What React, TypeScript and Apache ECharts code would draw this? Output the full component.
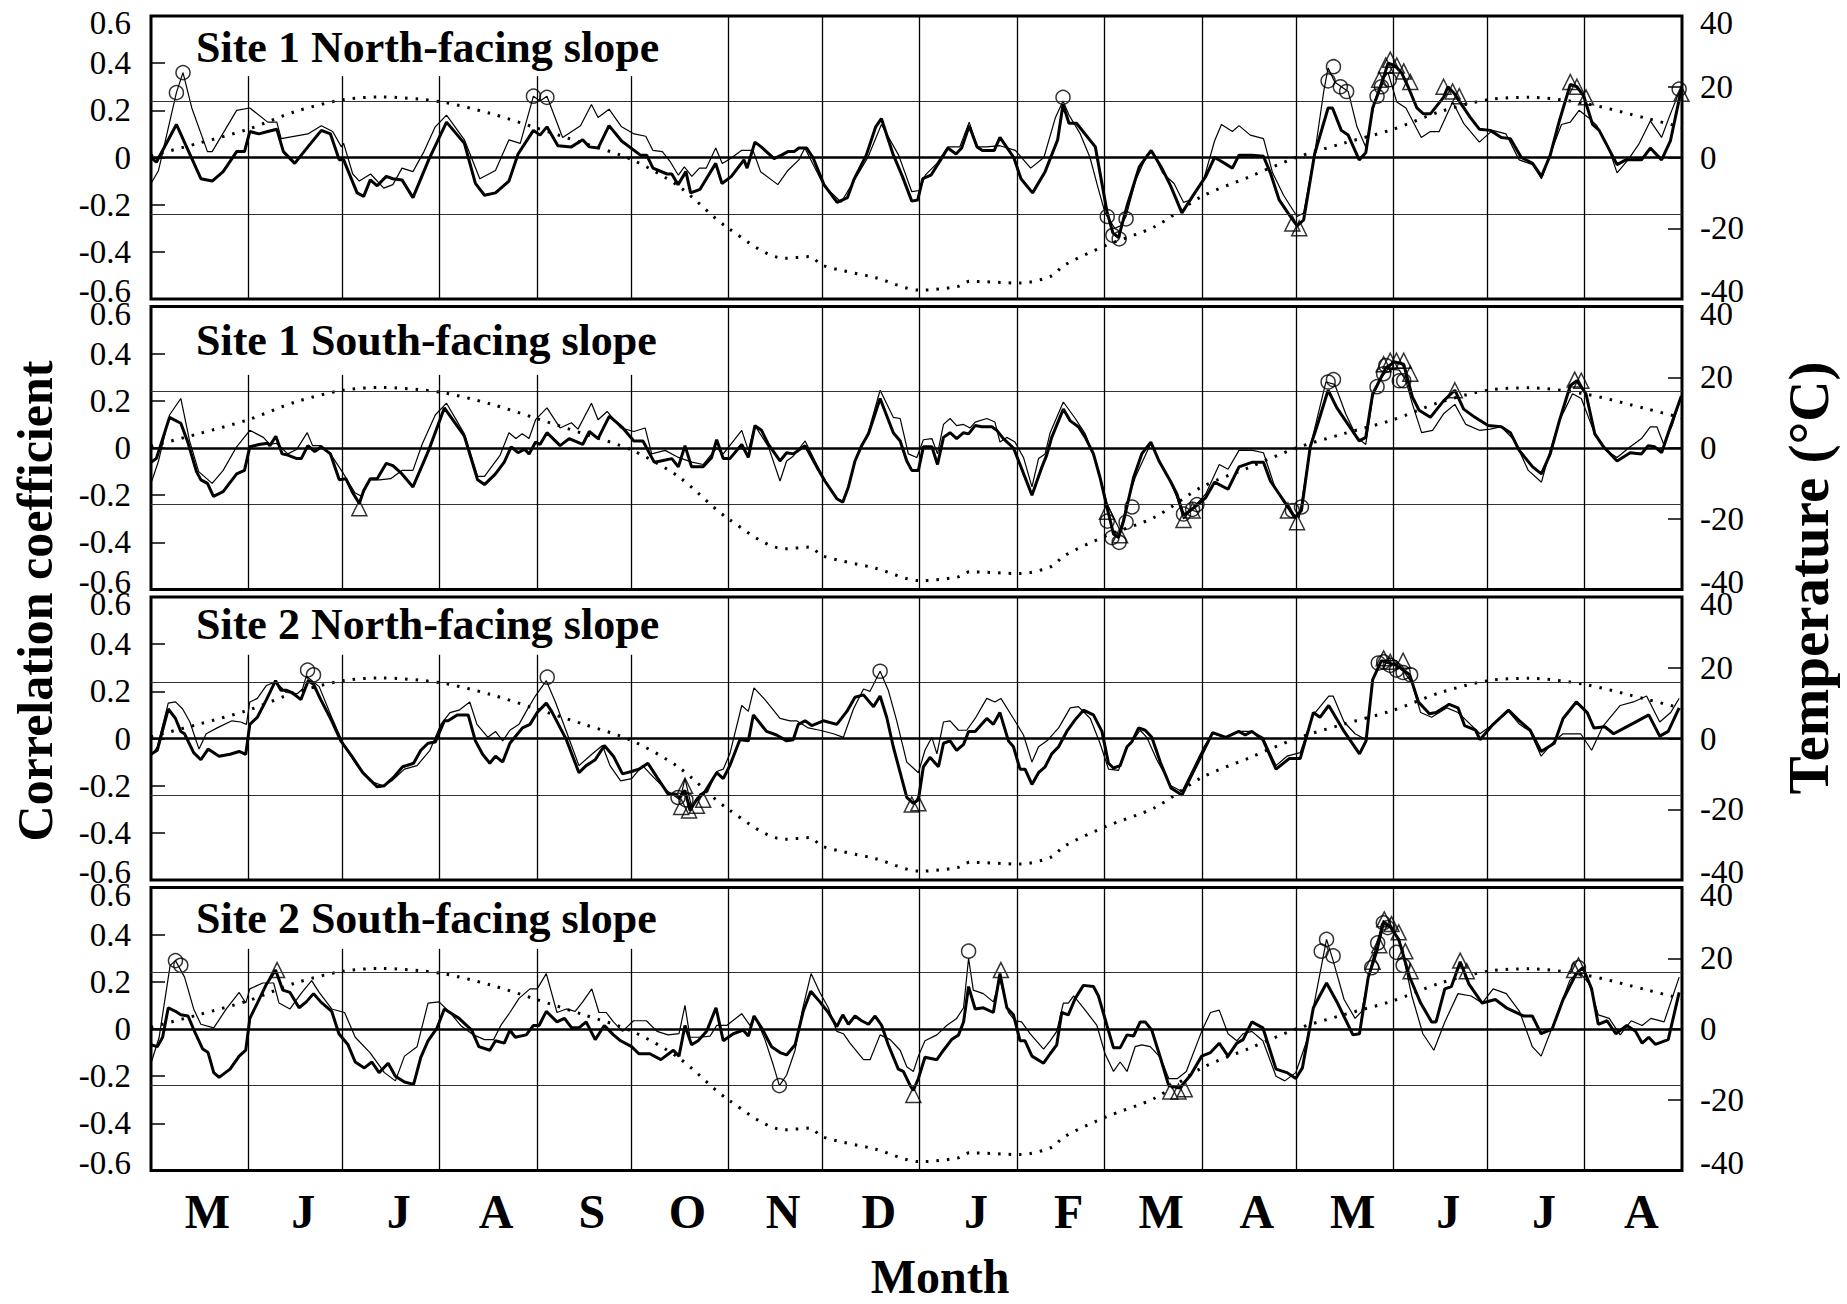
import React, { useEffect, useRef } from 'react';
import * as echarts from 'echarts';

// ---------- axes / categories ----------
const monthStarts = [0, 31, 61, 92, 123, 153, 184, 214, 245, 276, 304, 335, 365, 396, 426, 457, 488];
const monthLetters = ['M', 'J', 'J', 'A', 'S', 'O', 'N', 'D', 'J', 'F', 'M', 'A', 'M', 'J', 'J', 'A'];
const panelTitles = [
  'Site 1 North-facing slope',
  'Site 1 South-facing slope',
  'Site 2 North-facing slope',
  'Site 2 South-facing slope',
];
const corrRange = [-0.6, 0.6];
const tempRange = [-40, 40];
const sigLevel = 0.24;

// ---------- temperature (°C), [day since 1 May, value] ----------
const temperature = [
  [0, 0.5], [15, 4], [31, 8], [46, 13], [61, 16.3], [73, 17.1], [92, 15.8], [108, 12.5], [123, 8.3],
  [138, 4], [153, -0.5], [168, -8], [184, -20], [202, -28.5], [210, -28], [214, -30.5], [231, -34],
  [245, -37.5], [257, -36.5], [261, -35], [277, -35.5], [287, -33.5], [291, -30.5], [304, -25],
  [320, -19.5], [335, -11], [350, -5.5], [365, 0], [380, 4], [396, 8], [411, 13], [426, 16.3],
  [439, 17], [457, 15.3], [477, 11], [488, 8.5],
];

// ---------- Site 1 North ----------
const p1Bold = [
  [0, 0], [1.7, -0.02], [8.1, 0.14], [15.9, -0.09], [19.5, -0.1], [23, -0.06], [27.3, 0.025], [29.8, 0.025],
  [31.5, 0.11], [34.4, 0.1], [37.2, 0.11], [40.1, 0.12], [42.2, 0.025], [45.8, -0.025], [50, 0.045],
  [54.3, 0.115], [57.2, 0.1], [60, -0.01], [61.4, -0.01], [65.7, -0.15], [67.8, -0.165], [69.9, -0.095],
  [72.1, -0.12], [75, -0.08], [77.1, -0.09], [80, -0.095], [83.5, -0.17], [88.5, -0.01], [94.2, 0.15],
  [99.9, 0.06], [103.4, -0.11], [106.3, -0.16], [109.8, -0.15], [114.1, -0.1], [117, 0.015], [121.9, 0.115],
  [124, 0.095], [126.2, 0.13], [129.7, 0.05], [134, 0.045], [137.6, 0.075], [139.7, 0.045], [142.5, 0.04],
  [146, 0.135], [150, 0.07], [156, 0.01], [158, 0.01], [160, -0.045], [164.5, -0.07], [166, -0.07],
  [168, -0.115], [170.5, -0.06], [172, -0.15], [175, -0.135], [180, -0.025], [182, -0.11], [185, -0.08],
  [189, -0.01], [190, -0.045], [192.5, 0.065], [194.5, 0.045], [198.6, -0.005], [201, 0.01], [203, 0.025],
  [205, 0.025], [206.5, 0.04], [209, 0.04], [211, 0], [214.5, -0.115], [218.7, -0.19], [222, -0.17],
  [224, -0.095], [228, 0.01], [231, 0.13], [232.8, 0.165], [236.5, 0.015], [239.5, -0.08], [242.5, -0.185],
  [244.4, -0.18], [246, -0.09], [248.6, -0.075], [251.7, -0.01], [254, 0.04], [256.6, 0.015], [258.4, 0.04],
  [260.8, 0.135], [263.3, 0.045], [265, 0.03], [268.8, 0.03], [270.6, 0.085], [275, 0], [277.3, -0.09],
  [281, -0.15], [285, -0.06], [289, 0.075], [290.7, 0.225], [292.6, 0.145], [295, 0.145], [301, 0.045],
  [304.8, -0.235], [306.6, -0.32], [308.4, -0.34], [311, -0.21], [315, -0.04], [318.8, 0.03], [322, -0.04],
  [325, -0.12], [328.6, -0.235], [332.7, -0.15], [336.2, -0.08], [339, 0], [341, -0.015], [344.7, -0.045],
  [346.8, 0.01], [351, 0.01], [354.6, 0.005], [356.8, -0.065], [359.6, -0.18], [362.4, -0.235],
  [365.3, -0.29], [367.4, -0.265], [370.9, 0.015], [375.2, 0.21], [376.6, 0.21], [379.4, 0.115],
  [381.6, 0.095], [385.1, -0.01], [387.2, 0.02], [389.4, 0.21], [392.2, 0.31], [394.3, 0.4], [396.4, 0.39],
  [398.6, 0.36], [400.7, 0.3], [403.5, 0.21], [405.6, 0.185], [407.8, 0.185], [412, 0.255], [413.4, 0.3],
  [415.5, 0.27], [417.7, 0.225], [420.5, 0.17], [423.4, 0.12], [426.9, 0.115], [430.4, 0.085], [433.3, 0.08],
  [436.8, 0], [440.4, -0.025], [443.2, -0.08], [446, 0.01], [448.9, 0.155], [452.4, 0.31], [454.5, 0.3],
  [456.7, 0.26], [459.5, 0.14], [461.6, 0.115], [467.3, -0.03], [470.1, -0.01], [475.1, -0.01],
  [477.9, 0.04], [481.5, -0.01], [484.3, 0.07], [487.8, 0.29],
];
const p1Thin = [
  [0, -0.11], [2.4, -0.055], [8.1, 0.275], [10.2, 0.36], [13, 0.21], [18, 0.025], [19.5, 0.025], [27.3, 0.2],
  [31.5, 0.21], [37.2, 0.15], [40.1, 0.15], [41.5, 0.08], [50, 0.1], [54.3, 0.135], [57.9, 0.11],
  [60.7, 0.045], [61.4, 0.06], [64.3, -0.07], [66.4, -0.1], [70, -0.07], [74.2, -0.13], [77.1, -0.115],
  [80, -0.045], [83.5, -0.06], [87, 0.025], [90.6, 0.13], [94.2, 0.18], [99.9, 0.075], [104.8, -0.09],
  [109.8, -0.055], [114.1, 0.075], [117.7, 0.06], [121.9, 0.26], [124, 0.24], [126.2, 0.26], [131.2, 0.085],
  [136.9, 0.135], [140.4, 0.225], [142.5, 0.17], [146, 0.205], [150, 0.13], [154, 0.1], [157.7, 0.09],
  [160, 0.03], [163, 0.025], [165.6, -0.02], [168.1, -0.075], [170, -0.04], [172.4, -0.08], [174.8, -0.045],
  [177, -0.045], [180, 0.04], [182.1, -0.025], [184.6, -0.005], [188.2, 0.03], [191.9, 0.03], [194.3, -0.06],
  [199.8, -0.115], [203, -0.055], [206.5, -0.01], [208.4, 0.04], [214.5, -0.12], [220, -0.19], [224, -0.1],
  [228.5, 0], [232.8, 0.14], [238.3, 0.01], [242.5, -0.145], [245, -0.14], [246.8, -0.075], [250.5, -0.025],
  [254, 0.045], [257.8, 0.045], [260.8, 0.15], [263.3, 0.045], [266.3, 0.045], [270.6, 0.05], [275.5, 0.03],
  [280.4, -0.045], [284.6, 0], [288.3, 0.17], [290.7, 0.24], [292.6, 0.18], [296.2, 0.1], [299.3, 0],
  [301.7, -0.12], [304.1, -0.235], [307.2, -0.3], [309, -0.29], [310.8, -0.25], [313.9, -0.095],
  [317.6, 0.015], [319.4, 0.02], [322.4, -0.065], [326.1, -0.11], [329.1, -0.19], [331.3, -0.18],
  [335.5, -0.095], [339, 0.07], [341.2, 0.14], [344.7, 0.11], [346.8, 0.135], [350.4, 0.095], [354.6, 0.08],
  [357.5, -0.065], [361, -0.16], [365.3, -0.25], [367.4, -0.235], [370.9, 0.015], [373.8, 0.28],
  [375.2, 0.38], [377.3, 0.32], [379.4, 0.3], [381.6, 0.28], [384.4, 0.13], [387.2, 0.045], [390.1, 0.24],
  [392.2, 0.325], [394.3, 0.36], [397.1, 0.235], [400, 0.21], [404.9, 0.085], [407.8, 0.11], [410.6, 0.11],
  [414.9, 0.235], [418.4, 0.145], [423.4, 0.065], [427.6, 0.115], [431.9, 0.1], [436.1, -0.01],
  [440.4, -0.03], [443.2, -0.09], [446, 0.015], [449.6, 0.14], [452.4, 0.15], [455.2, 0.2], [458.1, 0.17],
  [460.9, 0.135], [464.5, 0.045], [467.3, -0.065], [470.8, -0.01], [474.4, 0.06], [477.9, 0.155],
  [481.5, 0.085], [484.3, 0.185], [487.8, 0.3],
];
const p1Circles = [
  [8.1, 0.275], [10.2, 0.36], [121.9, 0.26], [126.2, 0.255], [290.7, 0.255], [304.8, -0.25], [306.6, -0.33],
  [308.6, -0.345], [310.8, -0.26], [375.2, 0.325], [376.9, 0.385], [379.1, 0.3], [381.1, 0.28],
  [390.8, 0.26], [392.2, 0.3], [394.7, 0.33], [487.1, 0.29],
];
const p1Triangles = [
  [363.8, -0.28], [366, -0.3], [391.5, 0.33], [393.6, 0.39], [395, 0.415], [397.1, 0.39], [399.3, 0.365],
  [401.4, 0.32], [412, 0.3], [414.9, 0.28], [417, 0.26], [452.4, 0.32], [454.5, 0.3], [457.4, 0.255],
  [487.8, 0.27],
];

// ---------- Site 1 South ----------
const p2Bold = [
  [0, -0.06], [1.7, -0.045], [5.9, 0.13], [9.5, 0.105], [11.6, 0.03], [14.5, -0.1], [15.9, -0.135], [18, -0.15],
  [19.9, -0.205], [23, -0.185], [27.3, -0.11], [29.8, -0.095], [31.5, 0.005], [34.4, 0.015], [37.2, 0.02],
  [37.9, 0.01], [39.8, 0.05], [41.8, -0.025], [43.6, -0.03], [46.5, -0.045], [47.9, -0.045], [50, 0.01],
  [52.2, -0.015], [54.3, 0.005], [57.2, -0.025], [60, -0.135], [62.1, -0.13], [64.3, -0.19], [66.4, -0.235],
  [67.8, -0.18], [69.9, -0.13], [72.1, -0.13], [75, -0.065], [77.1, -0.075], [80, -0.11], [83.5, -0.165],
  [88.5, -0.01], [93.5, 0.17], [99.9, 0.05], [104.1, -0.135], [106.3, -0.155], [109.8, -0.11],
  [112.6, -0.06], [114.8, 0.005], [117, -0.02], [119.1, -0.005], [120.5, -0.025], [122.6, 0.025],
  [124, 0.015], [126.2, 0.065], [130.4, 0.01], [133.3, 0.04], [137.6, 0.015], [139.7, 0.07], [142.5, 0.04],
  [146.1, 0.135], [150.4, 0.085], [153.9, 0.03], [156.8, 0.03], [160.4, -0.06], [162.5, -0.055],
  [166, -0.045], [168.1, -0.08], [170.2, 0.01], [172.3, -0.08], [176, -0.08], [178.7, -0.04], [180.3, 0.035],
  [182.4, -0.045], [184.5, -0.045], [188.3, 0.015], [190.4, -0.04], [192.5, 0.095], [194.6, 0.075],
  [196.8, 0.015], [200.5, -0.055], [202.6, -0.02], [204.7, -0.025], [208.5, 0.01], [212.2, -0.08],
  [214.8, -0.14], [218.6, -0.215], [220.5, -0.23], [222.3, -0.165], [224.4, -0.055], [226.5, 0.01],
  [228.7, 0.06], [232.4, 0.21], [236.6, 0.065], [238.8, 0.03], [240.9, -0.055], [242.5, -0.095],
  [244.6, -0.095], [246.2, 0.005], [248.9, 0.005], [250.7, -0.07], [252.6, 0.045], [254.7, 0.065],
  [256.8, 0.04], [259, 0.065], [260.6, 0.06], [262.7, 0.095], [264.8, 0.09], [268, 0.09], [269.6, 0.075],
  [271.7, 0.04], [274.9, 0], [277, -0.07], [280.8, -0.2], [284, -0.08], [285.5, -0.03], [287.1, 0.045],
  [290.8, 0.165], [293, 0.115], [295.6, 0.09], [297.8, 0.045], [300.4, -0.025], [302.5, -0.125],
  [304.7, -0.25], [306.8, -0.365], [308.4, -0.38], [310, -0.31], [313.2, -0.125], [315.8, -0.025],
  [318.7, 0.025], [321.3, -0.055], [324.9, -0.14], [327, -0.195], [329.1, -0.285], [331.3, -0.265],
  [334.1, -0.235], [336.2, -0.21], [339, -0.145], [343.3, -0.175], [346.8, -0.08], [351.1, -0.06],
  [354.6, -0.06], [356.8, -0.14], [359.6, -0.195], [362.4, -0.25], [364.6, -0.295], [366.7, -0.265],
  [369.5, 0.005], [371.6, 0.09], [375.2, 0.245], [378, 0.17], [380.8, 0.115], [385.1, 0.03], [387.2, 0.045],
  [389.4, 0.23], [390.8, 0.265], [393.6, 0.34], [396.4, 0.365], [399.3, 0.355], [402.1, 0.215],
  [404.2, 0.16], [407.8, 0.13], [412, 0.2], [415.6, 0.245], [418.4, 0.165], [422, 0.13], [426.2, 0.095],
  [430.4, 0.09], [433.3, 0.065], [436.1, -0.01], [440.4, -0.08], [443.2, -0.11], [446, -0.025],
  [448.9, 0.115], [452.4, 0.265], [454.5, 0.285], [457.4, 0.23], [460.2, 0.06], [463, 0.005],
  [467.3, -0.055], [471.5, -0.02], [475.1, -0.025], [477.2, 0.01], [479.3, 0.005], [481.5, -0.02],
  [484.3, 0.09], [487.8, 0.22],
];
const p2Thin = [
  [0, -0.15], [2.4, -0.055], [5.9, 0.14], [9.5, 0.21], [12.3, 0.03], [15.2, -0.1], [19.5, -0.15], [23, -0.095],
  [27.3, 0.005], [31.5, 0.075], [35.8, 0.045], [37.9, 0.015], [40, 0.02], [43.6, -0.025], [46.5, -0.005],
  [49.8, 0.065], [51.5, 0.01], [54.3, 0.01], [57.2, -0.025], [61.4, -0.11], [65, -0.19], [67.1, -0.205],
  [69.9, -0.135], [72.8, -0.135], [76.4, -0.13], [80, -0.095], [83.5, -0.095], [86.4, 0.015], [90.6, 0.14],
  [94.2, 0.19], [99.9, 0.06], [104.1, -0.12], [106.3, -0.12], [111.3, -0.03], [114.1, 0.065], [116.3, 0.04],
  [118.3, 0.06], [120.5, 0.04], [122.6, 0.12], [126.2, 0.17], [130.4, 0.085], [134, 0.107], [136.1, 0.08],
  [140.4, 0.19], [142.5, 0.12], [145.4, 0.155], [149.7, 0.085], [153.9, 0.07], [157.5, 0.085],
  [159.6, -0.025], [163.9, -0.01], [168.1, -0.04], [172.4, -0.06], [176, -0.07], [180.3, 0], [182.4, -0.025],
  [188.3, 0.075], [190.4, -0.01], [192.5, 0.095], [196.8, 0.005], [200.5, -0.14], [202.6, -0.055],
  [204.7, -0.035], [208.5, 0.03], [212.2, -0.07], [214.8, -0.14], [218.6, -0.215], [220.5, -0.225],
  [222.3, -0.165], [224.4, -0.055], [228.7, 0.07], [232.4, 0.245], [236.6, 0.13], [238.8, 0.125],
  [241.4, -0.025], [244.1, -0.04], [246.2, 0.035], [248.9, 0.04], [250.7, -0.025], [252.6, 0.1],
  [254.7, 0.125], [256.8, 0.095], [259, 0.1], [261.1, 0.085], [262.7, 0.11], [266.4, 0.125], [269, 0.11],
  [270.6, 0.025], [272.8, 0.045], [275.4, 0.025], [278.1, -0.04], [280.8, -0.165], [282.9, -0.045],
  [285, -0.025], [286.6, 0.065], [290.8, 0.195], [294.6, 0.125], [297.8, 0.06], [301.5, -0.07],
  [304.7, -0.235], [306.8, -0.295], [308.9, -0.35], [311.1, -0.235], [313.7, -0.125], [318.7, 0.02],
  [321.3, -0.055], [324.9, -0.14], [327, -0.21], [329.1, -0.3], [331.3, -0.265], [334.1, -0.225],
  [336.2, -0.195], [340.5, -0.07], [343.3, -0.09], [346.8, -0.01], [351.1, -0.01], [354.6, -0.02],
  [358.2, -0.165], [361, -0.23], [363.8, -0.28], [366, -0.295], [369.5, 0.005], [374.5, 0.28],
  [377.3, 0.27], [380.8, 0.145], [384.4, 0.045], [387.2, 0.015], [389.4, 0.215], [391.5, 0.285],
  [394.3, 0.335], [397.9, 0.33], [400, 0.285], [402.1, 0.185], [405, 0.065], [408.5, 0.075], [412, 0.145],
  [415.6, 0.185], [419.1, 0.1], [423.4, 0.075], [426.9, 0.08], [430.4, 0.09], [434.7, 0.03], [439, -0.095],
  [443.2, -0.145], [446, -0.01], [448.9, 0.115], [453.1, 0.23], [455.9, 0.21], [460.2, 0.06],
  [463.7, -0.01], [467.3, -0.04], [471.5, 0.005], [475.1, 0.04], [477.9, 0.09], [480, 0.09],
  [482.2, 0.015], [485, 0.1], [487.8, 0.22],
];
const p2Circles = [
  [304.8, -0.31], [306.3, -0.38], [308.6, -0.4], [310.8, -0.315], [312.7, -0.25], [329.1, -0.28],
  [332, -0.26], [333.4, -0.24], [363.8, -0.265], [366.7, -0.25], [375.2, 0.28], [376.9, 0.29],
  [390.8, 0.26], [392.9, 0.315], [393.6, 0.35], [397.9, 0.285], [399.3, 0.285],
];
const p2Triangles = [
  [66.4, -0.255], [304.7, -0.27], [308.9, -0.37], [329.1, -0.305], [332, -0.265], [362.4, -0.265],
  [365.3, -0.315], [392.9, 0.355], [395, 0.37], [397, 0.37], [399.3, 0.37], [401.4, 0.315], [415.6, 0.245],
  [453.8, 0.29], [455.9, 0.285],
];

// ---------- Site 2 North ----------
const p3Bold = [
  [0, -0.067], [2, -0.05], [5.5, 0.125], [7.8, 0.085], [9.5, 0.03], [10.7, 0.02], [13.6, -0.06], [15.9, -0.09],
  [18.2, -0.045], [21.7, -0.075], [25.2, -0.067], [28.1, -0.055], [30.2, -0.067], [31.5, 0.06], [33.9, 0.09],
  [36.8, 0.165], [39.7, 0.245], [41.4, 0.205], [43.1, 0.205], [44.9, 0.195], [47.8, 0.165], [50.1, 0.245],
  [51.8, 0.23], [54.1, 0.165], [57.6, 0.075], [60.5, -0.01], [64, -0.075], [67.5, -0.145], [72.1, -0.205],
  [74.4, -0.2], [77.3, -0.165], [80.2, -0.12], [83.7, -0.105], [86, -0.05], [88.3, -0.02], [90.6, -0.015],
  [93.5, 0.075], [94.7, 0.075], [97.6, 0.1], [101.1, 0.1], [103.4, -0.01], [105.7, -0.067], [108, -0.105],
  [109.8, -0.075], [112.1, -0.1], [114.4, -0.02], [118.4, 0.045], [120.8, 0.06], [123.1, 0.11], [126, 0.15],
  [127.7, 0.115], [132.4, -0.005], [136.4, -0.145], [138.7, -0.115], [141.6, -0.09], [144.5, -0.03],
  [147.4, -0.075], [150.3, -0.15], [153.2, -0.14], [155.5, -0.13], [158.4, -0.105], [161.3, -0.165],
  [164.8, -0.235], [167.1, -0.235], [168.6, -0.25], [170.2, -0.22], [171.8, -0.305], [173.9, -0.26],
  [176.6, -0.225], [180.3, -0.145], [182.4, -0.17], [184.5, -0.115], [187.7, -0.005], [190.4, -0.01],
  [192, 0.1], [196.2, 0.03], [199.4, 0.015], [202.6, -0.01], [204.7, -0.005], [206.3, 0.06], [208.5, 0.075],
  [210.6, 0.055], [214.3, 0.075], [218.6, 0.06], [221.8, 0.115], [224.4, 0.175], [227.1, 0.185],
  [230.3, 0.135], [232.4, 0.18], [234.5, 0.09], [236.6, -0.035], [238.8, -0.145], [240.9, -0.25],
  [243, -0.275], [244.6, -0.26], [246.2, -0.12], [248.3, -0.08], [251, -0.12], [252.6, -0.02],
  [254.7, -0.01], [256.8, -0.05], [259, -0.025], [260.6, 0.03], [262.7, 0.03], [266.4, 0.085], [268.5, 0.06],
  [270.6, 0.11], [273.3, -0.01], [274.9, -0.035], [277, -0.13], [278.6, -0.13], [280.8, -0.195],
  [282.9, -0.145], [285, -0.12], [287.1, -0.065], [289.3, -0.035], [291.9, 0.03], [294.6, 0.08],
  [297.2, 0.12], [300.4, 0.1], [303.1, 0.03], [305.2, -0.105], [306.8, -0.125], [308.9, -0.115],
  [311.1, -0.035], [312.6, -0.015], [314.8, 0.045], [316.9, 0.035], [319, 0.005], [321.7, -0.1],
  [325.1, -0.21], [328.6, -0.24], [332.1, -0.145], [335.6, -0.05], [338.4, 0.025], [342.6, 0.005],
  [346.7, 0.03], [348.8, 0.015], [350.9, 0.03], [354.4, -0.005], [358.6, -0.13], [362.8, -0.085],
  [366.3, -0.085], [370.5, 0.11], [372.6, 0.09], [375.4, 0.14], [380.3, 0.03], [385.2, -0.065],
  [387.3, -0.01], [389.4, 0.25], [392.2, 0.33], [397, 0.31], [401.2, 0.27], [404, 0.155], [407.5, 0.105],
  [409.6, 0.11], [413.8, 0.145], [416.6, 0.13], [418.7, 0.055], [422.2, 0.035], [423.6, -0.005],
  [427.8, 0.06], [432.7, 0.12], [436.2, 0.075], [439.6, 0.035], [443.1, -0.055], [447.3, -0.02],
  [450.1, 0.085], [454.3, 0.155], [457.8, 0.11], [459.9, 0.045], [463.4, 0.05], [466.2, 0.02],
  [469.7, 0.045], [473.9, 0.075], [477.4, 0.1], [480.9, 0.01], [483.6, 0.03], [487.1, 0.13],
];
const p3Thin = [
  [0, -0.075], [2, -0.035], [5.5, 0.15], [7.8, 0.155], [10.1, 0.125], [12.4, 0.07], [15.3, -0.045],
  [17.6, 0.02], [21.1, 0.045], [25.8, 0.075], [28.6, 0.07], [30.4, 0.06], [31.5, 0.155], [33.9, 0.17],
  [36.8, 0.225], [39.7, 0.24], [43.1, 0.195], [46.6, 0.19], [48.3, 0.21], [49.5, 0.265], [53.6, 0.22],
  [57.6, 0.09], [61.7, -0.035], [65.7, -0.115], [69.8, -0.18], [73.8, -0.2], [76.7, -0.18], [80.8, -0.13],
  [84.8, -0.115], [88.9, -0.05], [92.4, 0.06], [95.3, 0.11], [98.2, 0.12], [101.6, 0.155], [103.9, 0.06],
  [107.4, 0.005], [109.8, 0.03], [112.1, -0.01], [114.4, 0.035], [117.3, 0.06], [119.6, 0.115],
  [122.5, 0.18], [126, 0.245], [128.9, 0.155], [132.4, 0.03], [136.4, -0.115], [140.5, -0.067],
  [143.9, -0.03], [146.3, -0.115], [149.7, -0.18], [153.2, -0.17], [156.7, -0.115], [160.2, -0.165],
  [164.8, -0.225], [168.6, -0.26], [170.2, -0.17], [172.3, -0.29], [175, -0.235], [177.6, -0.22],
  [180.3, -0.14], [182.4, -0.13], [184.5, -0.065], [188.3, 0.14], [190.4, 0.115], [192.2, 0.215],
  [195.7, 0.165], [200.5, 0.085], [203.7, 0.075], [205.8, 0.075], [209.5, 0.045], [213.2, 0.035],
  [217.5, 0.02], [220.7, 0.005], [223.9, 0.125], [227.1, 0.21], [229.2, 0.2], [232.4, 0.285], [235, 0.205],
  [237.7, 0.075], [240.9, -0.1], [244.6, -0.145], [246.7, -0.05], [248.9, 0.005], [250.5, -0.065],
  [252.6, 0.07], [254.7, 0.075], [257.4, 0.035], [260, 0.035], [262.7, 0.085], [266.4, 0.17], [269, 0.155],
  [270.9, 0.17], [274.9, 0.085], [278.1, 0.015], [280.8, -0.1], [282.9, -0.035], [285.6, -0.01],
  [289.3, 0.045], [293, 0.13], [295.6, 0.135], [299.4, 0.085], [302.5, -0.02], [305.2, -0.13],
  [308.4, -0.135], [311.1, -0.035], [313.2, -0.005], [315.3, 0.035], [317.4, 0.005], [320.6, -0.09],
  [325.1, -0.2], [328.6, -0.225], [332.1, -0.13], [335.6, -0.035], [338.4, 0.02], [342.6, 0.005],
  [346.7, 0.03], [350.9, 0.03], [354.4, 0.005], [358.6, -0.115], [362.1, -0.075], [366.3, -0.06],
  [370.5, 0.1], [375.4, 0.18], [376.8, 0.18], [380.3, 0.07], [383.8, 0.02], [387.3, -0.005], [389.4, 0.25],
  [392.2, 0.33], [397, 0.33], [401.9, 0.235], [404.7, 0.11], [408.2, 0.09], [413.1, 0.13], [416.6, 0.11],
  [419.4, 0.075], [423.6, 0.02], [427.8, 0.06], [432.7, 0.115], [436.2, 0.06], [439.6, 0.03],
  [443.1, -0.075], [447.3, -0.01], [450.1, 0.02], [455.7, 0.02], [459.2, -0.05], [462.7, 0.05],
  [468.3, 0.14], [472.5, 0.155], [476.7, 0.18], [480.9, 0.07], [484.4, 0.11], [487.1, 0.17],
];
const p3Circles = [
  [49.9, 0.29], [51.8, 0.27], [126.3, 0.26], [168, -0.25], [170.5, -0.26], [232.4, 0.285], [391.2, 0.32],
  [392.9, 0.325], [395, 0.31], [397, 0.29], [399.1, 0.28], [401.5, 0.27],
];
const p3Triangles = [
  [169, -0.29], [170.2, -0.2], [171.5, -0.305], [174, -0.285], [176, -0.26], [242.5, -0.28], [244.6, -0.275],
  [392.9, 0.34], [395, 0.325], [399.1, 0.33],
];

// ---------- Site 2 South ----------
const p4Bold = [
  [0, -0.067], [2, -0.075], [3.7, -0.035], [5.5, 0.09], [7.8, 0.075], [9.5, 0.06], [11.8, 0.055], [14.2, -0.02],
  [16.5, -0.085], [18.2, -0.1], [20, -0.185], [21.7, -0.205], [25.2, -0.17], [28.1, -0.115], [30.2, -0.09],
  [31.5, 0.045], [33.9, 0.11], [36.8, 0.19], [39.7, 0.25], [42, 0.165], [44.3, 0.155], [47.2, 0.09],
  [49.5, 0.115], [51.8, 0.15], [54.1, 0.115], [57.6, 0.075], [59.9, -0.02], [62.8, -0.067], [65.1, -0.14],
  [68, -0.165], [70.4, -0.14], [72.7, -0.185], [75.6, -0.145], [77.9, -0.2], [80.8, -0.225], [83.7, -0.235],
  [86, -0.12], [88.3, -0.05], [91.2, 0.005], [93.5, 0.085], [96.4, 0.06], [98.2, 0.045], [102.2, -0.005],
  [104.5, -0.075], [108, -0.09], [109.8, -0.05], [112.6, -0.06], [114.4, -0.005], [116.1, -0.035],
  [119.6, -0.025], [121.9, 0.015], [123.7, 0.015], [126, 0.075], [129.4, 0.03], [131.8, 0.045],
  [134.1, 0.005], [136.4, 0.005], [138.7, 0.03], [141.6, -0.045], [144.5, 0.015], [147.4, -0.025],
  [149.7, -0.05], [153.2, -0.075], [155.5, -0.105], [159, -0.105], [162.5, -0.13], [166.5, -0.09],
  [168.3, -0.115], [170.2, 0.015], [172.3, -0.067], [174.4, -0.05], [177.1, -0.01], [180.1, 0.09],
  [182.4, -0.05], [185.6, -0.02], [188.8, -0.005], [190.4, -0.03], [192.2, 0.055], [194.6, 0.005],
  [197.8, -0.075], [200.5, -0.1], [202.6, -0.11], [205.3, -0.067], [207.9, 0.075], [210.3, 0.16],
  [213.2, 0.115], [215.9, 0.07], [218.6, 0.01], [220.5, 0.06], [222.3, 0.02], [224.4, 0.055], [226.5, 0.035],
  [228.7, 0.02], [230.8, 0.055], [232.9, 0.015], [235, -0.067], [238.2, -0.17], [239.8, -0.18], [242, -0.24],
  [243, -0.26], [244.6, -0.21], [246.7, -0.12], [250.5, -0.13], [252.6, -0.09], [255.2, -0.045],
  [257.4, -0.025], [259, 0.03], [260.6, 0.18], [262.7, 0.085], [265.3, 0.09], [268.5, 0.07], [270.6, 0.235],
  [272.8, 0.09], [274.9, 0.06], [277, -0.05], [278.6, -0.05], [280.8, -0.115], [284.5, -0.145],
  [286.6, -0.105], [288.7, -0.067], [290.3, 0.07], [292.4, 0.06], [294.6, 0.13], [297.2, 0.185],
  [300.4, 0.18], [302, 0.14], [304.7, 0.015], [306.8, -0.08], [308.9, -0.08], [311.1, -0.025],
  [313.2, -0.03], [315.3, 0.03], [316.9, 0.03], [319, -0.005], [321.7, -0.12], [324.4, -0.24],
  [327.9, -0.25], [331.4, -0.195], [334.9, -0.115], [337.7, -0.1], [340.5, -0.06], [343.3, -0.115],
  [346.1, -0.06], [348.1, -0.045], [350.9, 0.03], [354.4, 0.005], [358.6, -0.17], [362.1, -0.185],
  [364.9, -0.21], [367, -0.165], [370.5, 0.09], [374.7, 0.195], [378.2, 0.11], [383.1, -0.025],
  [385.2, -0.02], [388, 0.22], [390.7, 0.33], [392.8, 0.45], [394.9, 0.435], [397.7, 0.38], [401.2, 0.22],
  [404.7, 0.11], [408.2, 0.03], [409.6, 0.03], [412.4, 0.17], [414.5, 0.18], [417.3, 0.285], [420.1, 0.19],
  [424.3, 0.11], [428.5, 0.125], [432, 0.09], [437.6, 0.055], [440.3, 0.055], [443.1, -0.02], [446.6, 0],
  [450.1, 0.125], [454.3, 0.235], [456.4, 0.26], [459.2, 0.17], [461.3, 0.02], [464.1, 0.035],
  [466.9, -0.02], [470.4, 0.015], [473.2, -0.01], [475.3, -0.06], [477.4, -0.035], [479.5, -0.065],
  [483.6, -0.045], [487.1, 0.155],
];
const p4Thin = [
  [0, -0.145], [2.6, -0.035], [6.1, 0.27], [7.8, 0.29], [10.7, 0.22], [13.6, 0.085], [15.9, 0.02], [20, 0.005],
  [24, 0.085], [28.1, 0.155], [30.2, 0.11], [31.5, 0.17], [35.6, 0.195], [39.1, 0.195], [40.8, 0.11],
  [44.3, 0.085], [47.8, 0.15], [51.2, 0.205], [53.6, 0.155], [57.6, 0.085], [61.7, 0.07], [65.1, -0.035],
  [69.8, -0.1], [74.4, -0.185], [77.9, -0.22], [80.8, -0.115], [84.8, -0.075], [88.3, 0.11], [91.8, 0.115],
  [95.3, 0.07], [98.7, 0.015], [102.8, -0.025], [106.3, -0.045], [109.2, -0.045], [111.5, 0.015],
  [114.4, 0.07], [117.3, 0.13], [120.8, 0.17], [123.1, 0.17], [126, 0.235], [129.4, 0.07], [132.4, 0.085],
  [135.2, 0.075], [137.6, 0.115], [140.5, 0.17], [142.8, 0.07], [145.1, 0.07], [147.4, 0.03],
  [150.3, -0.01], [153.8, 0.035], [157.9, 0.035], [161.3, -0.01], [164.8, -0.025], [168.3, -0.02],
  [170.2, 0.1], [171.8, -0.035], [175, -0.035], [178.2, -0.03], [180.3, 0.015], [183.5, 0.015],
  [188.3, 0.065], [190.9, 0.015], [192.5, 0.055], [195.7, -0.045], [198.4, -0.155], [200.3, -0.24],
  [202.6, -0.195], [205.3, -0.09], [207.7, 0.085], [210.4, 0.235], [213.2, 0.155], [215.9, 0.09],
  [218.6, -0.01], [220.7, -0.02], [222.8, -0.06], [227.1, -0.13], [229.2, -0.13], [232.4, -0.025],
  [235.6, -0.045], [238.8, -0.09], [240.9, -0.16], [243, -0.18], [244.6, -0.115], [246.7, -0.05],
  [250.5, -0.025], [253.6, 0.015], [256.8, 0.045], [259, 0.09], [260.6, 0.3], [262.1, 0.165], [265.3, 0.15],
  [268.5, 0.115], [270.6, 0.21], [273.3, 0.07], [275.4, 0.035], [277.5, 0.03], [280.2, -0.02],
  [284.5, -0.085], [286.6, -0.05], [288.7, -0.01], [290.8, 0.11], [292.4, 0.11], [294.1, 0.14],
  [297.2, 0.09], [301.5, 0.015], [304.1, -0.105], [306.8, -0.18], [308.9, -0.14], [311.1, -0.18],
  [313.7, -0.075], [315.8, -0.067], [318.5, -0.075], [321.7, -0.12], [324.4, -0.21], [327.2, -0.21],
  [330, -0.18], [334.9, -0.01], [337.7, 0.07], [340.5, 0.08], [343.3, -0.02], [346.1, -0.05],
  [348.1, -0.02], [350.9, -0.01], [354.4, -0.05], [358.6, -0.2], [361.4, -0.22], [364.9, -0.185],
  [368.4, -0.05], [370.5, 0.09], [374.7, 0.38], [376.8, 0.29], [380.3, 0.125], [383.8, 0.045],
  [385.9, 0.075], [388, 0.22], [390.7, 0.365], [392.8, 0.46], [395.6, 0.43], [398.4, 0.355], [401.9, 0.14],
  [405.4, -0.02], [408.9, -0.09], [412.4, 0.03], [416.6, 0.15], [420.8, 0.14], [424.3, 0.11], [427.8, 0.17],
  [432, 0.15], [436.2, 0.075], [440.3, -0.075], [443.1, -0.115], [447.3, 0.03], [452.2, 0.205],
  [455, 0.245], [458.5, 0.19], [461.3, 0.06], [464.8, 0.045], [468.3, -0.025], [471.8, 0.035],
  [475.3, 0.015], [478.1, 0.045], [482.3, 0.03], [487.1, 0.22],
];
const p4Circles = [
  [7.8, 0.29], [9.5, 0.27], [200.3, -0.24], [260.6, 0.33], [373, 0.33], [374.7, 0.38], [376.8, 0.31],
  [389.1, 0.26], [391, 0.365], [392.8, 0.45], [394.2, 0.43], [397, 0.325], [399.1, 0.27], [455, 0.26],
];
const p4Triangles = [
  [40.2, 0.25], [243, -0.28], [270.9, 0.25], [324.9, -0.265], [327.5, -0.265], [329.5, -0.255],
  [389.4, 0.285], [391.5, 0.355], [393.1, 0.465], [395.4, 0.445], [397.7, 0.41], [399.8, 0.33],
  [401.5, 0.245], [417.3, 0.29], [419.4, 0.245], [453.6, 0.25], [455, 0.27],
];

const panels = [
  { bold: p1Bold, thin: p1Thin, circles: p1Circles, triangles: p1Triangles },
  { bold: p2Bold, thin: p2Thin, circles: p2Circles, triangles: p2Triangles },
  { bold: p3Bold, thin: p3Thin, circles: p3Circles, triangles: p3Triangles },
  { bold: p4Bold, thin: p4Thin, circles: p4Circles, triangles: p4Triangles },
];

// ---------- layout (styling, not data) ----------
const SERIF = '"Liberation Serif", "Times New Roman", Times, serif';
const GRID_LEFT = 151;
const GRID_W = 1531;
const GRID_H = 283;
const GRID_TOPS = [16, 306.5, 597, 887.5];
const TITLE_DY = [31, 34, 27, 31];
const TITLE_CUT = [0.345, 0.31, 0.355, 0.34]; // month lines stop under the title box
const TITLE_BOX_LAST_MONTH = 153;

const labelFont = { fontFamily: SERIF, fontSize: 33, color: '#000' };

function makeEdgeFormatter(lo: number, hi: number, decimals: number) {
  return (v: number) => {
    const f = Math.pow(10, decimals);
    let r = Math.round(v * f) / f;
    if (Object.is(r, -0)) r = 0;
    const s = String(r);
    const span = hi - lo;
    if (Math.abs(v - hi) < span * 1e-3) return `{top|${s}}`;
    if (Math.abs(v - lo) < span * 1e-3) return `{bot|${s}}`;
    return s;
  };
}

export default function App() {
  const ref = useRef<HTMLDivElement>(null);

  useEffect(() => {
    if (!ref.current) return;
    const chart = echarts.init(ref.current, null, { renderer: 'svg' });

    const monthMid = monthStarts.slice(0, -1).map((s, i) => (s + monthStarts[i + 1]) / 2 + 2.5);

    const grids = GRID_TOPS.map((t) => ({
      left: GRID_LEFT,
      top: t,
      width: GRID_W,
      height: GRID_H,
      show: true,
      borderColor: '#000',
      borderWidth: 3,
      backgroundColor: 'transparent',
    }));

    const xAxes = GRID_TOPS.map((_, i) => ({
      type: 'value',
      gridIndex: i,
      min: monthStarts[0],
      max: monthStarts[monthStarts.length - 1],
      axisLine: { show: false },
      axisTick: { show: false },
      splitLine: { show: false },
      axisLabel:
        i === 3
          ? {
              show: true,
              customValues: monthMid,
              formatter: (v: number) => {
                let best = 0;
                monthMid.forEach((m, k) => {
                  if (Math.abs(m - v) < Math.abs(monthMid[best] - v)) best = k;
                });
                return monthLetters[best];
              },
              fontFamily: SERIF,
              fontWeight: 'bold',
              fontSize: 48,
              color: '#000',
              margin: 17,
            }
          : { show: false },
    }));

    const tickStyle = { show: true, inside: true, length: 14, lineStyle: { color: '#000', width: 1.5 } };
    const rich = {
      top: { ...labelFont, padding: [14, 0, 0, 0] },
      bot: { ...labelFont, padding: [0, 0, 16, 0] },
    };
    const yAxes: any[] = [];
    GRID_TOPS.forEach((_, i) => {
      yAxes.push({
        type: 'value',
        gridIndex: i,
        position: 'left',
        min: corrRange[0],
        max: corrRange[1],
        interval: 0.2,
        axisLine: { show: false },
        axisTick: tickStyle,
        splitLine: { show: false },
        axisLabel: {
          ...labelFont,
          margin: 20,
          showMinLabel: true,
          showMaxLabel: true,
          hideOverlap: false,
          formatter: makeEdgeFormatter(corrRange[0], corrRange[1], 1),
          rich,
        },
      });
      yAxes.push({
        type: 'value',
        gridIndex: i,
        position: 'right',
        min: tempRange[0],
        max: tempRange[1],
        interval: 20,
        axisLine: { show: false },
        axisTick: tickStyle,
        splitLine: { show: false },
        axisLabel: {
          ...labelFont,
          margin: 18,
          showMinLabel: true,
          showMaxLabel: true,
          hideOverlap: false,
          formatter: makeEdgeFormatter(tempRange[0], tempRange[1], 0),
          rich,
        },
      });
    });

    const refLines = (i: number) => {
      const d: any[] = [
        { yAxis: 0, lineStyle: { width: 2.6, color: '#000' } },
        { yAxis: sigLevel, lineStyle: { width: 1.2, color: '#333' } },
        { yAxis: -sigLevel, lineStyle: { width: 1.2, color: '#333' } },
      ];
      monthStarts.slice(1, -1).forEach((m) => {
        if (m <= TITLE_BOX_LAST_MONTH) {
          d.push([{ coord: [m, corrRange[0]] }, { coord: [m, TITLE_CUT[i]] }]);
        } else {
          d.push({ xAxis: m });
        }
      });
      return d;
    };

    const series: any[] = [];
    panels.forEach((p, i) => {
      series.push({
        type: 'line',
        name: `bold${i}`,
        xAxisIndex: i,
        yAxisIndex: 2 * i,
        data: p.bold,
        symbol: 'none',
        lineStyle: { color: '#000', width: 3 },
        z: 3,
        markLine: {
          silent: true,
          symbol: ['none', 'none'],
          label: { show: false },
          lineStyle: { color: '#000', type: 'solid', width: 1.3 },
          data: refLines(i),
        },
      });
      series.push({
        type: 'line',
        name: `thin${i}`,
        xAxisIndex: i,
        yAxisIndex: 2 * i,
        data: p.thin,
        symbol: 'none',
        lineStyle: { color: '#000', width: 1.2 },
        z: 3,
      });
      series.push({
        type: 'line',
        name: `temp${i}`,
        xAxisIndex: i,
        yAxisIndex: 2 * i + 1,
        data: temperature,
        symbol: 'none',
        smooth: 0.3,
        lineStyle: { color: '#000', width: 3, type: [2.5, 8] },
        z: 3,
      });
      series.push({
        type: 'scatter',
        name: `circ${i}`,
        xAxisIndex: i,
        yAxisIndex: 2 * i,
        data: p.circles,
        symbol: 'circle',
        symbolSize: 14,
        itemStyle: { color: 'rgba(0,0,0,0)', borderColor: '#000', borderWidth: 1.5 },
        z: 4,
      });
      series.push({
        type: 'scatter',
        name: `tri${i}`,
        xAxisIndex: i,
        yAxisIndex: 2 * i,
        data: p.triangles,
        symbol: 'triangle',
        symbolSize: 15,
        itemStyle: { color: 'rgba(0,0,0,0)', borderColor: '#000', borderWidth: 1.5 },
        z: 4,
      });
    });

    const graphics: any[] = panelTitles.map((t, i) => ({
      type: 'text',
      x: 196,
      y: GRID_TOPS[i] + TITLE_DY[i],
      z: 10,
      style: {
        text: t,
        font: `bold 44px ${SERIF}`,
        fill: '#000',
        align: 'left',
        verticalAlign: 'middle',
      },
    }));
    graphics.push({
      type: 'text',
      x: 35,
      y: 601,
      rotation: Math.PI / 2,
      style: {
        text: 'Correlation coefficient',
        font: `bold 50px ${SERIF}`,
        fill: '#000',
        align: 'center',
        verticalAlign: 'middle',
      },
    });
    graphics.push({
      type: 'text',
      x: 1808,
      y: 578,
      rotation: Math.PI / 2,
      style: {
        text: 'Temperature (°C)',
        font: `bold 57px ${SERIF}`,
        fill: '#000',
        align: 'center',
        verticalAlign: 'middle',
      },
    });
    graphics.push({
      type: 'text',
      x: 940,
      y: 1276,
      style: {
        text: 'Month',
        font: `bold 48px ${SERIF}`,
        fill: '#000',
        align: 'center',
        verticalAlign: 'middle',
      },
    });

    chart.setOption({
      animation: false,
      backgroundColor: '#fff',
      grid: grids,
      xAxis: xAxes,
      yAxis: yAxes,
      series,
      graphic: graphics,
    });

    return () => chart.dispose();
  }, []);

  return (
    <div
      ref={ref}
      style={{ position: 'absolute', left: 0, top: 0, width: 1847, height: 1304 }}
    />
  );
}
